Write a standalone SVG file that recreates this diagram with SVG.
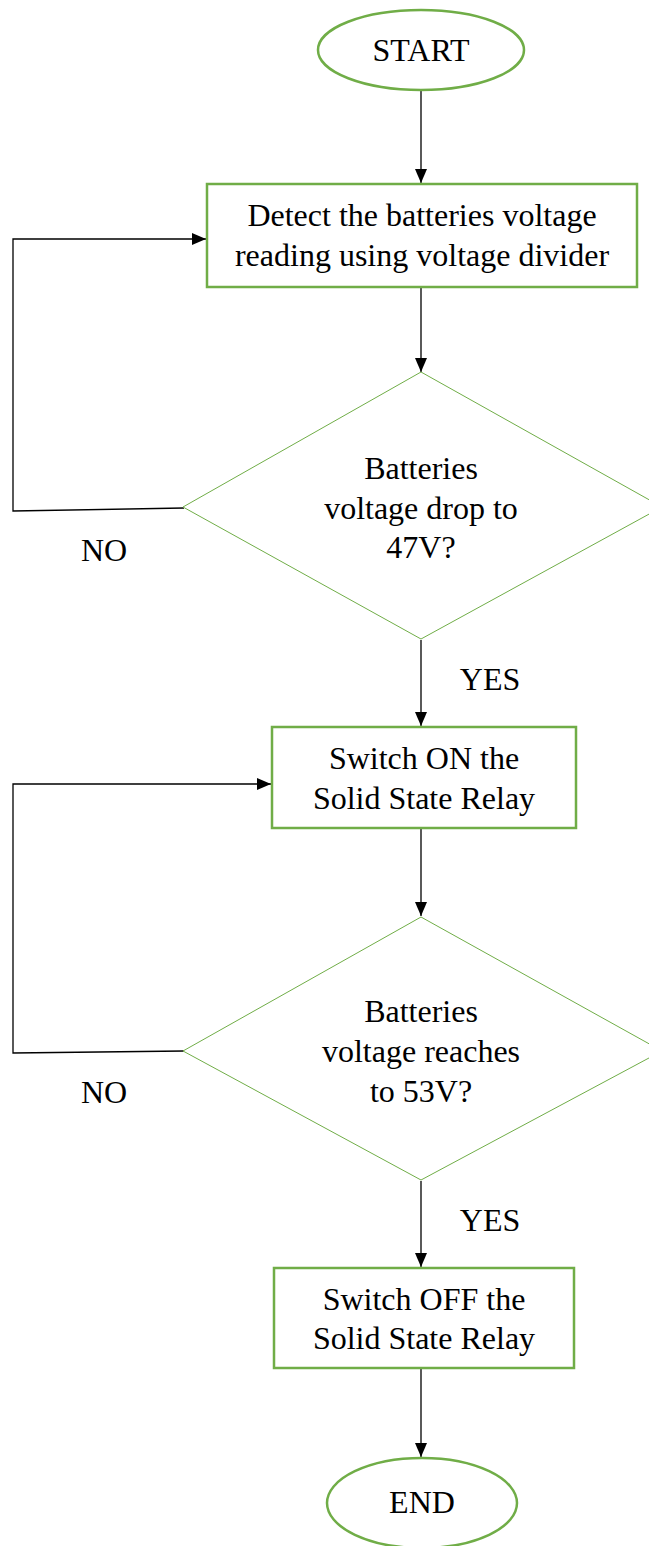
<svg xmlns="http://www.w3.org/2000/svg" width="649" height="1546" viewBox="0 0 649 1546">
<style>
.term{fill:#fff;stroke:#70AD47;stroke-width:2.5}
.box{fill:#fff;stroke:#70AD47;stroke-width:2.5}
.dec{fill:#fff;stroke:#70AD47;stroke-width:1}
.conn{fill:none;stroke:#000;stroke-width:1.3}
text{font-family:"Liberation Serif","Times New Roman",serif;font-size:32px;fill:#000;text-anchor:middle}
</style>
<defs>
<marker id="ah" markerWidth="14" markerHeight="12" viewBox="0 0 14 12" refX="14" refY="6" orient="auto" markerUnits="userSpaceOnUse">
<path d="M0,0 L14,6 L0,12 Z" fill="#000"/>
</marker>
</defs>
<rect width="649" height="1546" fill="#fff"/>
<g id="connectors">
<line class="conn" x1="421" y1="90" x2="421" y2="183" marker-end="url(#ah)"/>
<line class="conn" x1="421" y1="288" x2="421" y2="372" marker-end="url(#ah)"/>
<polyline class="conn" points="184,508 13,511 13,239 206,239" marker-end="url(#ah)"/>
<line class="conn" x1="421" y1="640" x2="421" y2="726" marker-end="url(#ah)"/>
<line class="conn" x1="421" y1="829" x2="421" y2="916" marker-end="url(#ah)"/>
<polyline class="conn" points="184,1051 13,1053 13,784 271,784" marker-end="url(#ah)"/>
<line class="conn" x1="421" y1="1181" x2="421" y2="1267" marker-end="url(#ah)"/>
<line class="conn" x1="421" y1="1369" x2="421" y2="1457" marker-end="url(#ah)"/>
<text x="104" y="561">NO</text>
<text x="490" y="690">YES</text>
<text x="104" y="1103">NO</text>
<text x="490" y="1231">YES</text>
</g>
<g id="start">
<ellipse class="term" cx="421" cy="50" rx="103" ry="40"/>
<text x="421" y="61">START</text>
</g>
<g id="detect">
<rect class="box" x="207" y="184" width="430" height="103"/>
<text x="422" y="226">Detect the batteries voltage</text>
<text x="422" y="266">reading using voltage divider</text>
</g>
<g id="decision1">
<polygon class="dec" points="421,372 662,507 421,639 183,507"/>
<text x="421" y="479">Batteries</text>
<text x="421" y="519">voltage drop to</text>
<text x="421" y="558">47V?</text>
</g>
<g id="switchon">
<rect class="box" x="272" y="727" width="304" height="101"/>
<text x="424" y="769">Switch ON the</text>
<text x="424" y="809">Solid State Relay</text>
</g>
<g id="decision2">
<polygon class="dec" points="421,917 662,1051 421,1180 183,1051"/>
<text x="421" y="1022">Batteries</text>
<text x="421" y="1062">voltage reaches</text>
<text x="421" y="1102">to 53V?</text>
</g>
<g id="switchoff">
<rect class="box" x="274" y="1268" width="300" height="100"/>
<text x="424" y="1310">Switch OFF the</text>
<text x="424" y="1349">Solid State Relay</text>
</g>
<g id="end">
<ellipse class="term" cx="422" cy="1503" rx="95" ry="45"/>
<text x="422" y="1513">END</text>
</g>
</svg>
